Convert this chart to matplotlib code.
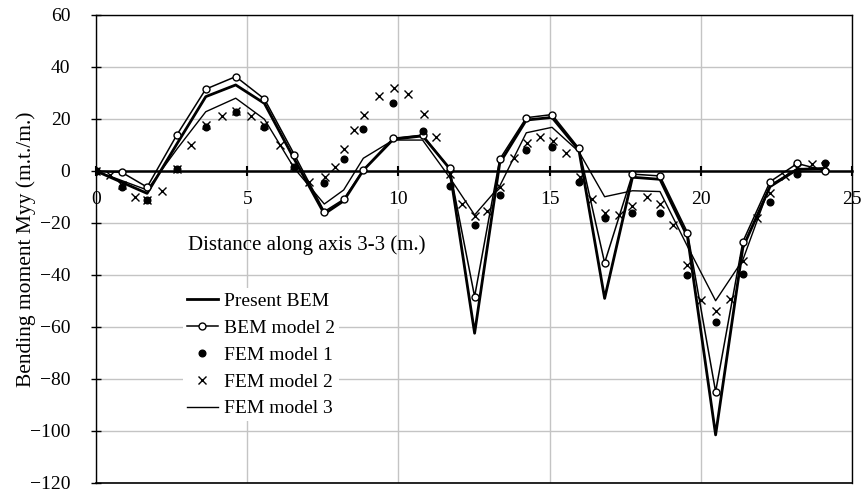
import numpy as np
import matplotlib
matplotlib.use("Agg")
import matplotlib.pyplot as plt

plt.rcParams['font.family'] = ['Liberation Serif', 'DejaVu Serif']

# Distances along axis 3-3 (m.)
x_bem = [0, 1.69, 2.68, 3.63, 4.62, 5.57, 6.56, 7.55, 8.19, 8.84, 9.83, 10.8, 11.69,
         12.52, 13.35, 14.23, 15.08, 15.97, 16.82, 17.74, 18.65, 19.56, 20.49, 21.39,
         22.29, 23.19, 24.11]
m_bem = [0, -8.6, 10.5, 28.6, 33.1, 26.0, 4.5, -16.5, -11.5, 0.3, 12.2, 13.5, 1.0,
         -62.4, 3.0, 19.6, 20.6, 8.0, -49.0, -2.4, -3.2, -25.3, -101.5, -29.5,
         -6.0, 0.6, 1.0]

x_nodes = [0, 0.85, 1.69, 2.68, 3.63, 4.62, 5.57, 6.56, 7.55, 8.19, 8.84, 9.83, 10.8,
           11.69, 12.52, 13.35, 14.23, 15.08, 15.97, 16.82, 17.74, 18.65, 19.56, 20.49,
           21.39, 22.29, 23.19, 24.11]
m_bem2 = [0, -0.5, -6.2, 14.0, 31.5, 36.3, 27.7, 6.3, -15.6, -10.9, 0.4, 12.6, 13.8,
          1.0, -48.3, 4.5, 20.5, 21.7, 8.7, -35.3, -1.2, -1.9, -23.7, -84.9,
          -27.2, -4.1, 2.9, 0.1]
m_fem1 = [0, -6.0, -11.2, 0.6, 17.1, 22.8, 17.1, 1.7, -4.8, 4.6, 16.2, 26.0, 15.4,
          -5.7, -20.8, -9.2, 8.1, 9.2, -4.4, -18.2, -16.3, -16.3, -40.0, -58.0,
          -39.6, -12.1, -1.3, 3.2]

x_fem2 = [0, 0.45, 0.85, 1.29, 1.69, 2.17, 2.68, 3.15, 3.63, 4.18, 4.62, 5.13, 5.57,
          6.09, 6.56, 7.06, 7.58, 7.91, 8.21, 8.54, 8.87, 9.36, 9.86, 10.33, 10.85,
          11.25, 11.69, 12.09, 12.52, 12.94, 13.35, 13.81, 14.25, 14.67, 15.11, 15.54,
          16.0, 16.4, 16.82, 17.3, 17.74, 18.21, 18.65, 19.09, 19.56, 20.02, 20.49,
          20.96, 21.4, 21.87, 22.29, 22.77, 23.19, 23.67, 24.11]
m_fem2 = [0, -1.5, -5.5, -9.9, -11.0, -7.6, 0.8, 10.0, 17.5, 21.2, 23.0, 21.2, 17.5,
          10.0, 2.0, -4.1, -2.4, 1.7, 8.3, 15.8, 21.5, 28.8, 31.8, 29.6, 21.9,
          13.0, -1.0, -12.7, -17.3, -15.4, -6.0, 4.9, 10.9, 13.0, 11.7, 7.0,
          -2.4, -10.9, -16.0, -16.9, -13.5, -10.1, -12.7, -20.8, -36.2, -49.6, -53.8,
          -49.2, -34.6, -18.0, -8.3, -2.0, 1.0, 2.6, 2.0]

x_fem3 = [0, 1.69, 2.68, 3.63, 4.62, 5.57, 6.56, 7.55, 8.19, 8.84, 9.83, 10.8, 11.69,
          12.52, 13.35, 14.23, 15.08, 15.97, 16.82, 17.74, 18.65, 19.56, 20.49, 21.39,
          22.29, 23.19, 24.11]
m_fem3 = [0, -7.3, 8.5, 22.8, 28.0, 19.9, 1.0, -12.7, -7.3, 4.9, 11.9, 11.9, -2.4,
          -16.9, -5.8, 14.7, 16.8, 7.4, -9.9, -7.6, -7.9, -29.0, -49.9, -34.2,
          -5.5, 1.0, 0.5]

fig = plt.figure(figsize=(8.64, 4.92), dpi=100)
ax = fig.add_axes([96 / 864, 9 / 492, 756 / 864, 468 / 492])

ax.plot(x_bem, m_bem, color='black', lw=2.0, label='Present BEM', zorder=3)
ax.plot(x_nodes, m_bem2, color='black', lw=1.1, marker='o', ms=5, mfc='white',
        mec='black', mew=1.0, label='BEM model 2', zorder=4)
ax.plot(x_nodes, m_fem1, ls='none', marker='o', ms=4.8, color='black',
        label='FEM model 1', zorder=5)
ax.plot(x_fem2, m_fem2, ls='none', marker='x', ms=5.5, mew=1.0, color='black',
        label='FEM model 2', zorder=6)
ax.plot(x_fem3, m_fem3, color='black', lw=1.0, label='FEM model 3', zorder=3)

ax.set_xlim(0, 25)
ax.set_ylim(-120, 60)
ax.set_xticks(np.arange(0, 26, 5))
ax.set_yticks(np.arange(-120, 61, 20))
ax.grid(True, color='#c4c4c4', lw=1.0)

# x axis drawn at zero, box kept around the plot
ax.spines['bottom'].set_position(('data', 0))
ax.spines['bottom'].set_linewidth(1.8)
for s in ['left', 'top', 'right']:
    ax.spines[s].set_linewidth(1.0)
ax.axhline(-120, color='black', lw=1.2, clip_on=False)

ax.tick_params(axis='x', direction='inout', length=7, width=1.5, labelsize=14, pad=11)
ax.tick_params(axis='y', direction='inout', length=7, width=1.0, labelsize=14, pad=15)
for lab in ax.get_xticklabels():
    lab.set_bbox(dict(facecolor='white', edgecolor='none', pad=1))

ax.text(3.04, -28.5, 'Distance along axis 3-3 (m.)', fontsize=15, ha='left', va='center')
ax.set_ylabel('Bending moment Myy (m.t./m.)', fontsize=15.5)
ax.yaxis.set_label_coords(-0.08, 0.5)

leg = ax.legend(loc='center left', bbox_to_anchor=(0.1147, 0.274), fontsize=14,
                frameon=True, facecolor='white', edgecolor='none', framealpha=1,
                borderpad=0.2, borderaxespad=0, handlelength=1.6, handletextpad=0.3,
                labelspacing=0.48, fancybox=False)
leg.set_zorder(2.5)

fig.savefig('out.png', dpi=100)
